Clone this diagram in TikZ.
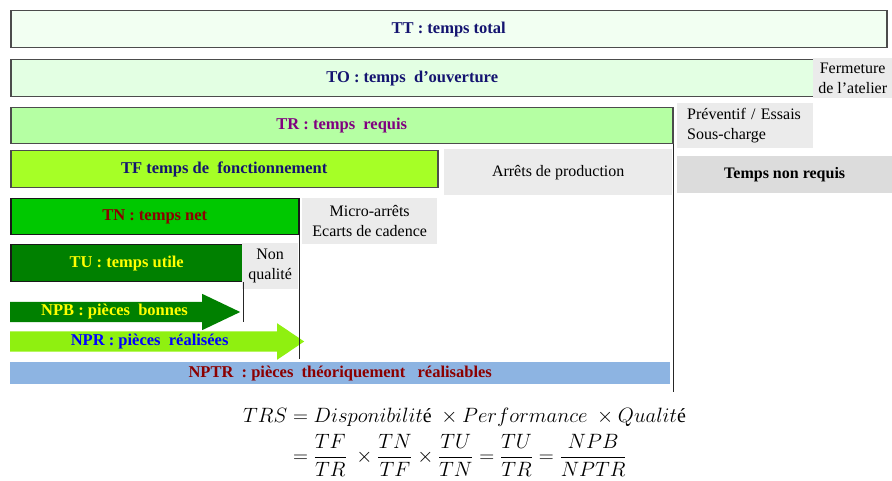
\documentclass[tikz,border=0pt]{standalone}
\usepackage{fontspec}
\usepackage{amsmath}
\setmainfont{Liberation Serif}
\usetikzlibrary{shapes.arrows}

\definecolor{ttfill}{HTML}{F2FFF2}
\definecolor{tofill}{HTML}{E3FFE3}
\definecolor{trfill}{HTML}{B5FFA3}
\definecolor{tffill}{HTML}{A6FF26}
\definecolor{tnfill}{HTML}{00C800}
\definecolor{tufill}{HTML}{008000}
\definecolor{nprfill}{HTML}{8FF010}
\definecolor{nptrfill}{HTML}{8DB4E2}
\definecolor{causefill}{HTML}{EBEBEB}
\definecolor{nonreqfill}{HTML}{DCDCDC}
\definecolor{navytext}{HTML}{141470}
\definecolor{trtext}{HTML}{800080}
\definecolor{redtext}{HTML}{8B0000}
\definecolor{yellowtext}{HTML}{FFFF00}
\definecolor{bluetext}{HTML}{0000FF}

\begin{document}
\begin{tikzpicture}[x=1pt,y=-1pt,
	bar/.style={draw=black!70,line width=1.5pt,anchor=north west,inner sep=0pt,
		font=\fontsize{16.5}{19}\selectfont\bfseries},
	cause/.style={fill=causefill,anchor=north west,inner sep=0pt,align=center,
		font=\fontsize{16}{19.5}\selectfont},
	pieces/.style={single arrow,single arrow head extend=8pt,anchor=tail,
		inner xsep=0pt,inner ysep=2pt,text height=12pt,text depth=4pt,
		font=\fontsize{16.5}{19}\selectfont\bfseries}]

\useasboundingbox (0,0) rectangle (892,481);

% temps
\node[bar,fill=ttfill,text=navytext,minimum width=876pt,minimum height=37pt] (tt) at (10,10) {TT : temps total};
\node[bar,fill=tofill,text=navytext,minimum width=803pt,minimum height=37pt] (to) at (10,59) {TO : temps~~d'ouverture};
\node[bar,fill=trfill,text=trtext,minimum width=662pt,minimum height=36pt] (tr) at (10,107) {TR : temps~~requis};
\node[bar,fill=tffill,text=navytext,minimum width=427pt,minimum height=37pt] (tf) at (10,150) {TF temps de~~fonctionnement};
\node[bar,draw=black!90,fill=tnfill,text=redtext,minimum width=288pt,minimum height=36pt] (tn) at (10,198) {TN : temps net};
\node[bar,draw=black!90,fill=tufill,text=yellowtext,minimum width=232pt,minimum height=37pt] (tu) at (10,244) {TU : temps utile};

% pertes
\node[cause,minimum width=79pt,minimum height=40pt] (fermeture) at (813,58) {Fermeture\\de l'atelier};
\node[cause,align=left,inner xsep=10pt,text width=116pt,minimum height=45pt] (preventif) at (677,103) {Préventif / Essais\\Sous-charge};
\node[cause,fill=nonreqfill,font=\fontsize{16}{19}\selectfont\bfseries,minimum width=215pt,minimum height=37pt] (nonrequis) at (677,156) {Temps non requis};
\node[cause,minimum width=228pt,minimum height=46pt] (arrets) at (444,149) {Arrêts de production};
\node[cause,minimum width=135pt,minimum height=46pt] (micro) at (302,198) {Micro-arrêts\\Ecarts de cadence};
\node[cause,minimum width=56pt,minimum height=46pt] (nonqualite) at (242,243) {Non\\qualité};

% pieces
\node[pieces,fill=tufill,text=yellowtext,minimum height=230pt,single arrow tip angle=51] (npb) at (10,312) {NPB :~pièces~~bonnes};
\node[pieces,fill=nprfill,text=bluetext,minimum height=294pt,single arrow tip angle=68] (npr) at (10,341.5) {NPR :~pièces~~réalisées};
\node[anchor=north west,fill=nptrfill,text=redtext,inner sep=0pt,minimum width=660pt,minimum height=22pt,
	font=\fontsize{16.5}{19}\selectfont\bfseries] (nptr) at (10,362) {NPTR~~: pièces~~théoriquement~~~réalisables};

% limites
\coordinate (trbas) at (0,392);
\coordinate (tnbas) at (0,359);
\coordinate (tubas) at (0,322);
\draw[line width=1.2pt,black!85] (tr.south east) -- (tr.south east |- trbas);
\draw[line width=1.2pt,black!85] (tn.south east) -- (tn.south east |- tnbas);
\draw[line width=1.2pt,black!85] (tu.south east) -- (tu.south east |- tubas);

% formule
\node[anchor=north west,inner sep=0pt,font=\fontsize{20}{24}\selectfont] (trs) at (243,405)
	{$\begin{aligned} TRS &= Disponibilit\text{é}\ \times Performance\ \times Qualit\text{é}\\[1pt]
	&= \frac{TF}{TR}\ \times\frac{TN}{TF}\times\frac{TU}{TN}=\frac{TU}{TR}=\frac{NPB}{NPTR}\end{aligned}$};
\end{tikzpicture}
\end{document}
